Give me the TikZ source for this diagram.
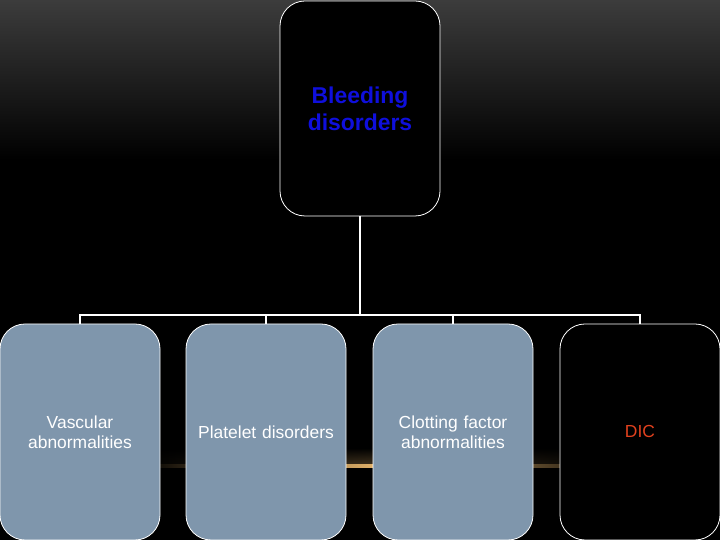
\documentclass[tikz,border=0pt]{standalone}
\usepackage{fontspec}
\setmainfont{Liberation Sans}
\usetikzlibrary{positioning,calc,fadings}

\definecolor{slate}{RGB}{127,150,172}
\definecolor{topblue}{RGB}{15,15,220}
\definecolor{dicred}{RGB}{225,65,30}
\definecolor{glow}{RGB}{235,185,110}

\tikzset{
    box/.style={draw=white, line width=0.8bp, rounded corners=25bp,
        minimum width=160bp, minimum height=216bp, inner sep=2bp,
        align=center, text width=152bp, font=\fontsize{17.5}{20.5}\selectfont},
    conn/.style={draw=white, line width=2bp},
}

\begin{document}
\begin{tikzpicture}[x=1bp,y=1bp]
            \fill[black] (0,0) rectangle (720,540);
            \useasboundingbox (0,0) rectangle (720,540);
            \shade[top color={rgb,255:red,60;green,60;blue,60}, bottom color=black] (0,380) rectangle (720,540);
            % glow line behind the boxes
            \shade[left color=black, right color=black, middle color=glow!35!black, path fading=north] (140,72) rectangle (630,92);
            \shade[left color=black, right color=black, middle color=glow] (140,72.5) rectangle (630,75.5);
            \node[box, fill=black, minimum height=215bp, text=topblue,
                font=\bfseries\fontsize{23}{27}\selectfont] (top) at (360,431.5) {Bleeding\\disorders};
            \foreach \x/\n/\c/\t/\txt in {
                80/vasc/slate/white/{Vascular\\abnormalities},
                266/plat/slate/white/{Platelet disorders},
                453/clot/slate/white/{Clotting factor\\abnormalities},
                640/dic/black/dicred/{DIC}
            } {
                \node[box, fill=\c, text=\t] (\n) at (\x,108) {\txt};
            }
            \draw[conn] (top.south) -- ++(0,-99) coordinate (hub);
            \foreach \n in {vasc,plat,clot,dic}
                \draw[conn] (hub) -| (\n.north);
        \end{tikzpicture}
\end{document}
